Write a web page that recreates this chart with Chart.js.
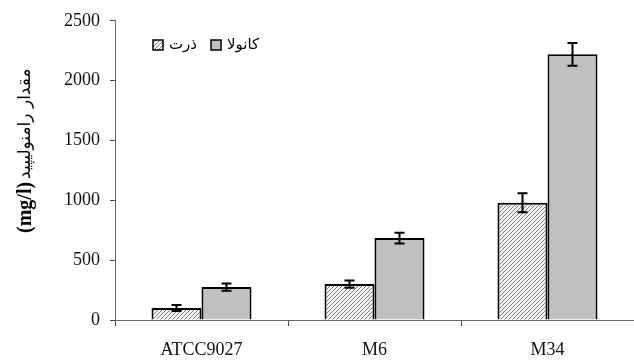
<!DOCTYPE html>
<html>
<head>
<meta charset="utf-8">
<script src="https://cdn.jsdelivr.net/npm/chart.js@4"></script>
<style>
  html, body { margin: 0; padding: 0; background: #fff; }
  #wrap { width: 634px; height: 360px; }
</style>
</head>
<body>
<div id="wrap"><canvas id="chart"></canvas></div>
<script>
// Datos del gráfico
const categories = ['ATCC9027', 'M6', 'M34'];
const cornValues = [100, 300, 980];
const cornErrors = [25, 30, 80];
const canolaValues = [275, 685, 2220];
const canolaErrors = [30, 45, 95];
const seriesLabels = ['ذرت', 'کانولا'];
const yTicks = [0, 500, 1000, 1500, 2000, 2500];
const yTitleUnit = '(mg/l)';
const yTitleText = 'مقدار رامنولیپید';

const serif = "'Liberation Serif', 'DejaVu Serif', serif";
const arabic = "'DejaVu Sans', sans-serif";

// Patrón rayado para la serie de maíz
function makeHatch() {
    const c = document.createElement('canvas');
    c.width = 4; c.height = 4;
    const g = c.getContext('2d');
    g.fillStyle = '#f4f4f4';
    g.fillRect(0, 0, 4, 4);
    g.strokeStyle = '#808080';
    g.lineWidth = 1;
    g.beginPath();
    g.moveTo(0, 4); g.lineTo(4, 0);
    g.moveTo(-1, 1); g.lineTo(1, -1);
    g.moveTo(3, 5); g.lineTo(5, 3);
    g.stroke();
    return g.createPattern(c, 'repeat');
}
const hatch = makeHatch();

// Barras de error
const errorBars = {
    id: 'errorBars',
    afterDatasetsDraw(chart) {
        const ctx = chart.ctx;
        const y = chart.scales.y;
        ctx.save();
        ctx.strokeStyle = '#000';
        ctx.lineWidth = 2;
        chart.data.datasets.forEach((ds, i) => {
            const meta = chart.getDatasetMeta(i);
            meta.data.forEach((bar, j) => {
                const v = ds.data[j], e = ds.errors[j];
                const top = y.getPixelForValue(v + e);
                const bot = y.getPixelForValue(v - e);
                ctx.beginPath();
                ctx.moveTo(bar.x, top); ctx.lineTo(bar.x, bot);
                ctx.moveTo(bar.x - 5, top); ctx.lineTo(bar.x + 5, top);
                ctx.moveTo(bar.x - 5, bot); ctx.lineTo(bar.x + 5, bot);
                ctx.stroke();
            });
        });
        ctx.restore();
    }
};

// Leyenda y título del eje
const extras = {
    id: 'extras',
    afterDraw(chart) {
        const ctx = chart.ctx;
        ctx.save();
        // leyenda
        let x = 153;
        const yb = 40;
        ctx.font = '15px ' + arabic;
        ctx.textBaseline = 'middle';
        chart.data.datasets.forEach(ds => {
            ctx.fillStyle = ds.backgroundColor;
            ctx.fillRect(x, yb, 10, 10);
            ctx.strokeStyle = '#000';
            ctx.lineWidth = 1.5;
            ctx.strokeRect(x, yb, 10, 10);
            ctx.fillStyle = '#000';
            ctx.textAlign = 'left';
            ctx.fillText(ds.label, x + 16, yb + 5);
            x += 16 + ctx.measureText(ds.label).width + 14;
        });
        // título del eje Y (girado)
        ctx.translate(26, 233);
        ctx.rotate(-Math.PI / 2);
        ctx.textAlign = 'left';
        ctx.font = 'bold 20px ' + serif;
        ctx.fillText(yTitleUnit, 0, 0);
        const w = ctx.measureText(yTitleUnit).width;
        ctx.font = '17px ' + arabic;
        ctx.fillText(yTitleText, w + 3, 0);
        ctx.restore();
    }
};

new Chart(document.getElementById('chart'), {
    type: 'bar',
    data: {
        labels: categories,
        datasets: [
            {
                label: seriesLabels[0],
                data: cornValues,
                errors: cornErrors,
                backgroundColor: hatch,
                borderColor: '#000',
                borderWidth: 2,
                borderSkipped: 'bottom'
            },
            {
                label: seriesLabels[1],
                data: canolaValues,
                errors: canolaErrors,
                backgroundColor: '#c0c0c0',
                borderColor: '#000',
                borderWidth: 2,
                borderSkipped: 'bottom'
            }
        ]
    },
    options: {
        responsive: true,
        maintainAspectRatio: false,
        animation: false,
        layout: { padding: { top: 20, left: 0, right: 0, bottom: 0 } },
        plugins: {
            legend: { display: false },
            tooltip: { enabled: false }
        },
        datasets: {
            bar: { barPercentage: 1, categoryPercentage: 0.578 }
        },
        scales: {
            x: {
                afterFit: s => { s.height = 40; },
                grid: { offset: true, drawOnChartArea: false, color: '#444', tickLength: 6 },
                border: { color: '#666', width: 1 },
                ticks: { color: '#111', font: { family: serif, size: 18 }, padding: 13 }
            },
            y: {
                min: 0,
                max: 2500,
                afterFit: s => { s.width = 115; },
                afterBuildTicks: s => { s.ticks = yTicks.map(v => ({ value: v })); },
                grid: { drawOnChartArea: false, color: '#444', tickLength: 5 },
                border: { color: '#666', width: 1 },
                ticks: {
                    color: '#111',
                    font: { family: serif, size: 18 },
                    padding: 10,
                    callback: v => String(v)
                }
            }
        }
    },
    plugins: [errorBars, extras]
});
</script>
</body>
</html>
